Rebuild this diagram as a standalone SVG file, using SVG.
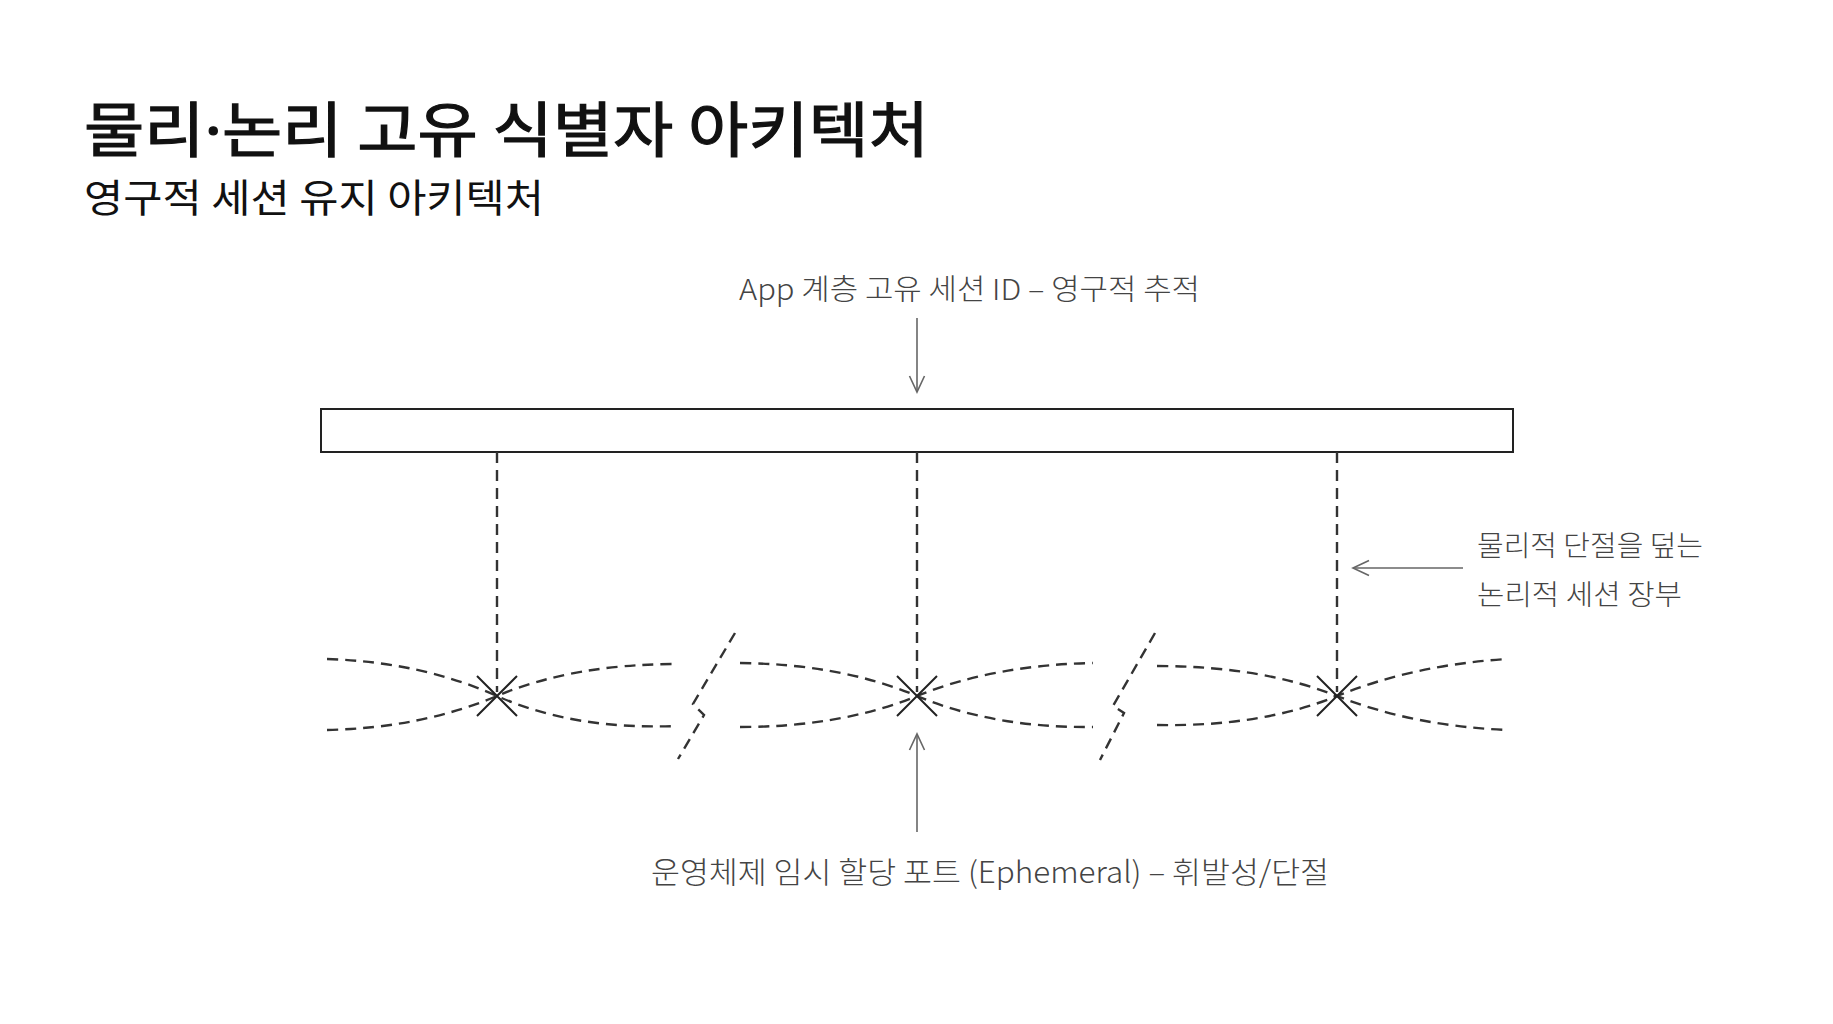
<svg xmlns="http://www.w3.org/2000/svg" width="1833" height="1024" viewBox="0 0 1833 1024">
<style>
.title{font-family:"Noto Sans CJK KR","Noto Sans",sans-serif;fill:#111;}
.lbl{font-family:"Noto Sans CJK KR","Noto Sans",sans-serif;font-weight:300;fill:#444;}
.dash{fill:none;stroke:#333;stroke-width:2.4;stroke-dasharray:11 7;}
.xmark{stroke:#222;stroke-width:2;fill:none;}
.arrow{stroke:#666;stroke-width:1.6;fill:none;}
</style>
<defs>
<marker id="arr" viewBox="0 0 20 20" refX="18" refY="10" markerWidth="20" markerHeight="20" orient="auto" markerUnits="userSpaceOnUse">
<path d="M2,2.5 L18,10 L2,17.5" fill="none" stroke="#666" stroke-width="1.6"/>
</marker>
</defs>
<rect width="1833" height="1024" fill="#fff"/>
<g id="title">
<text class="title" x="84" y="152" font-size="60" font-weight="400" stroke="#111" stroke-width="1.2" textLength="845" lengthAdjust="spacingAndGlyphs">물리<tspan font-family="Noto Sans, sans-serif">·</tspan>논리 고유 식별자 아키텍처</text>
<text class="title" x="84" y="212" font-size="39" font-weight="400" textLength="460" lengthAdjust="spacingAndGlyphs">영구적 세션 유지 아키텍처</text>
</g>
<g id="session-bar">
<rect x="321" y="409" width="1192" height="43" fill="#fff" stroke="#222" stroke-width="2"/>
</g>
<g id="port-1">
<path class="dash" d="M327,659 Q421,662 497,696 T677,726"/>
<path class="dash" d="M327,730 Q421,728 497,696 T677,664"/>
<path class="xmark" d="M477,676 L517,716 M517,676 L477,716"/>
</g>
<g id="port-2">
<path class="dash" d="M740,663 Q841,664 917,696 T1093,727"/>
<path class="dash" d="M740,727 Q841,727 917,696 T1093,663"/>
<path class="xmark" d="M897,676 L937,716 M937,676 L897,716"/>
</g>
<g id="port-3">
<path class="dash" d="M1157,666 Q1261,666 1337,696 T1507,730"/>
<path class="dash" d="M1157,725 Q1261,727 1337,696 T1507,659"/>
<path class="xmark" d="M1317,676 L1357,716 M1357,676 L1317,716"/>
</g>
<g id="breaks">
<path class="dash" d="M735,633 L693,704 L704,715 L678,759"/>
<path class="dash" d="M1155,633 L1113,706 L1124,713 L1100,760"/>
</g>
<g id="connectors">
<path class="dash" d="M497,452 L497,692"/>
<path class="dash" d="M917,452 L917,692"/>
<path class="dash" d="M1337,452 L1337,692"/>
<path class="arrow" d="M917,318 L917,392" marker-end="url(#arr)"/>
<path class="arrow" d="M1463,568 L1353,568" marker-end="url(#arr)"/>
<path class="arrow" d="M917,832 L917,734" marker-end="url(#arr)"/>
</g>
<g id="label-top">
<text class="lbl" x="739" y="300" font-size="29" textLength="461" lengthAdjust="spacingAndGlyphs">App 계층 고유 세션 ID – 영구적 추적</text>
</g>
<g id="label-right">
<text class="lbl" x="1477" y="556" font-size="28" textLength="226" lengthAdjust="spacingAndGlyphs">물리적 단절을 덮는</text>
<text class="lbl" x="1477" y="605" font-size="28" textLength="205" lengthAdjust="spacingAndGlyphs">논리적 세션 장부</text>
</g>
<g id="label-bottom">
<text class="lbl" x="651" y="883" font-size="30" textLength="678" lengthAdjust="spacingAndGlyphs">운영체제 임시 할당 포트 (Ephemeral) – 휘발성/단절</text>
</g>
</svg>
